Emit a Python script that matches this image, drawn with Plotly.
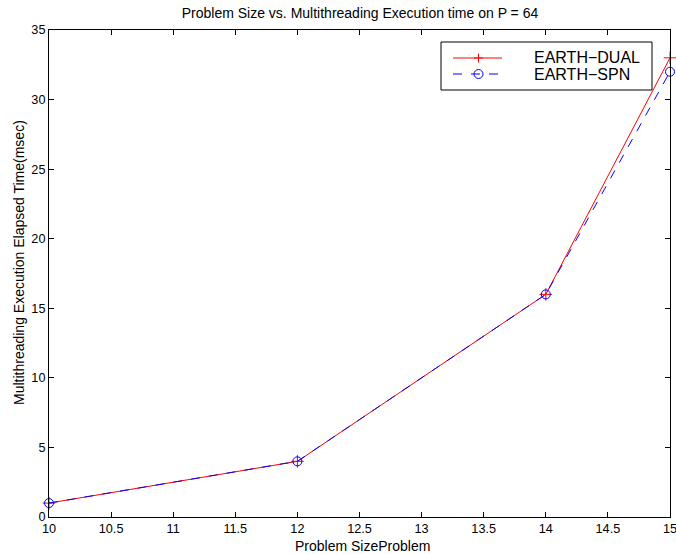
import plotly.graph_objects as go

problem_size = [10, 12, 14, 15]
earth_dual = [1, 4, 16, 33]
earth_spn = [1, 4, 16, 32]
x_ticks = [10, 10.5, 11, 11.5, 12, 12.5, 13, 13.5, 14, 14.5, 15]
y_ticks = [0, 5, 10, 15, 20, 25, 30, 35]
series_names = ["EARTH\u2212DUAL", "EARTH\u2212SPN"]

W, H = 676, 554
L, R, T, B = 49, 670, 30, 517  # plot area in pixels


def px(x):
    return (x - L) / (R - L)


def py(y):
    return (B - y) / (B - T)


fig = go.Figure()
fig.add_trace(go.Scatter(
    x=problem_size, y=earth_dual, name=series_names[0],
    mode="lines+markers", cliponaxis=False,
    line=dict(color="red", width=1),
    marker=dict(symbol="cross-thin-open", size=9, color="red", line=dict(color="red", width=1)),
))
fig.add_trace(go.Scatter(
    x=problem_size, y=earth_spn, name=series_names[1],
    mode="lines+markers", cliponaxis=False,
    line=dict(color="blue", width=1, dash="dash"),
    marker=dict(symbol="circle-open", size=9, color="blue", line=dict(color="blue", width=1)),
))

axis_common = dict(
    showline=True, linecolor="black", linewidth=1, mirror="ticks",
    ticks="inside", ticklen=5, tickcolor="black", showgrid=False, zeroline=False,
    tickfont=dict(size=12.7, color="black"), automargin=False,
    ticklabeloverflow="allow",
)

shapes = []
annotations = []
# legend box
shapes.append(dict(type="rect", xref="paper", yref="paper",
                   x0=px(441), x1=px(652), y0=py(90), y1=py(42),
                   line=dict(color="black", width=1), fillcolor="white", layer="above"))
# legend entry 1 (solid red with +)
y1 = 58.0
shapes.append(dict(type="line", xref="paper", yref="paper", x0=px(453), x1=px(502),
                   y0=py(y1), y1=py(y1), line=dict(color="red", width=1), layer="above"))
shapes.append(dict(type="line", xref="paper", yref="paper", x0=px(474), x1=px(483),
                   y0=py(y1), y1=py(y1), line=dict(color="red", width=1), layer="above"))
shapes.append(dict(type="line", xref="paper", yref="paper", x0=px(478.5), x1=px(478.5),
                   y0=py(y1 - 4.5), y1=py(y1 + 4.5), line=dict(color="red", width=1), layer="above"))
# legend entry 2 (dashed blue with o)
y2 = 74.0
shapes.append(dict(type="line", xref="paper", yref="paper", x0=px(453), x1=px(502),
                   y0=py(y2), y1=py(y2), line=dict(color="blue", width=1, dash="dash"), layer="above"))
shapes.append(dict(type="circle", xref="paper", yref="paper", x0=px(474), x1=px(483),
                   y0=py(y2 + 4.5), y1=py(y2 - 4.5), line=dict(color="blue", width=1), layer="above"))
for name, yy in zip(series_names, [y1, y2]):
    annotations.append(dict(text=name, xref="paper", yref="paper", x=px(532), y=py(yy),
                            xanchor="left", yanchor="middle", showarrow=False,
                            font=dict(size=16, color="black")))
# axis titles
annotations.append(dict(text="Problem SizeProblem", xref="paper", yref="paper",
                        x=px(362), y=py(546), xanchor="center", yanchor="middle",
                        showarrow=False, font=dict(size=14, color="black")))
annotations.append(dict(text="Multithreading Execution Elapsed Time(msec)", xref="paper", yref="paper",
                        x=px(19), y=py(263), xanchor="center", yanchor="middle", textangle=-90,
                        showarrow=False, font=dict(size=14, color="black")))

fig.update_layout(
    width=W, height=H,
    margin=dict(l=L, r=W - R, t=T, b=H - B, autoexpand=False),
    paper_bgcolor="white", plot_bgcolor="white",
    font=dict(family="Liberation Sans, Arial, sans-serif", color="black", size=12),
    title=dict(text="Problem Size vs. Multithreading Execution time on P = 64",
               x=px(360), xanchor="center", xref="paper", y=1 - 13 / H, yanchor="middle",
               font=dict(size=14)),
    xaxis=dict(range=[10, 15], tickvals=x_ticks,
               ticktext=[("%g" % v) for v in x_ticks], **axis_common),
    yaxis=dict(range=[0, 35], tickvals=y_ticks, **axis_common),
    shapes=shapes,
    annotations=annotations,
    showlegend=False,
    hovermode=False,
)
fig.write_html("out.html",
               config=dict(displayModeBar=False, staticPlot=True),
               post_script="document.body.style.margin='0';document.body.style.overflow='hidden';")
